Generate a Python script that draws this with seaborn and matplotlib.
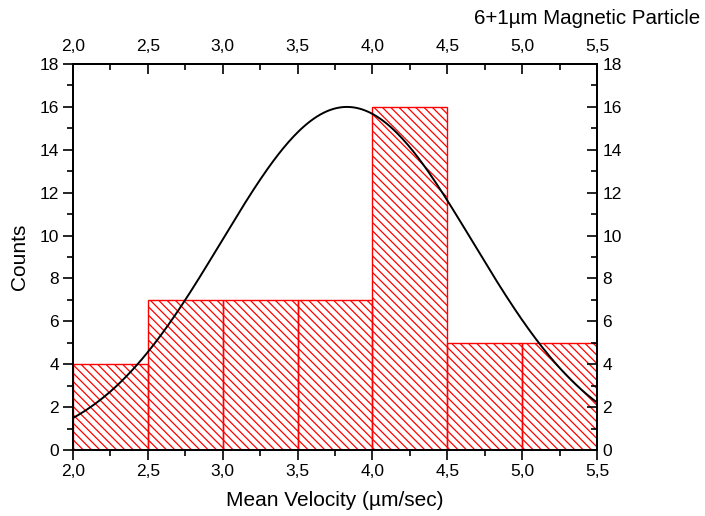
import numpy as np
import matplotlib
matplotlib.use("Agg")
import matplotlib.pyplot as plt
import seaborn as sns
from matplotlib.ticker import FuncFormatter, MultipleLocator

# Data
bin_edges = [2.0, 2.5, 3.0, 3.5, 4.0, 4.5, 5.0, 5.5]
bin_centers = [2.25, 2.75, 3.25, 3.75, 4.25, 4.75, 5.25]
counts = [4, 7, 7, 7, 16, 5, 5]
# Gaussian fit parameters
fit_amplitude = 16.0
fit_center = 3.83
fit_sigma = 0.84

sns.set_theme(style="ticks")
plt.rcParams['font.family'] = ['Liberation Sans', 'DejaVu Sans']
plt.rcParams['hatch.linewidth'] = 0.9
plt.rcParams['hatch.color'] = 'red'
plt.rcParams['text.color'] = 'black'
plt.rcParams['axes.labelcolor'] = 'black'
plt.rcParams['xtick.color'] = 'black'
plt.rcParams['ytick.color'] = 'black'
plt.rcParams['axes.edgecolor'] = 'black'

fig = plt.figure(figsize=(7.05, 5.16), dpi=100)
ax = fig.add_axes([0.1035, 0.1279, 0.7433, 0.748])

sns.histplot(x=bin_centers, weights=counts, bins=bin_edges, ax=ax,
             color='none', edgecolor='red', linewidth=1.0)
for p in ax.patches:
    p.set_hatch('\\\\\\\\')
    p.set_facecolor('none')
    p.set_edgecolor('red')

xs = np.linspace(bin_edges[0], bin_edges[-1], 300)
ys = fit_amplitude * np.exp(-(xs - fit_center) ** 2 / (2 * fit_sigma ** 2))
sns.lineplot(x=xs, y=ys, ax=ax, color='black', linewidth=1.4)

ax.set_xlim(2.0, 5.5)
ax.set_ylim(0, 18)
comma = FuncFormatter(lambda v, p: f"{v:.1f}".replace('.', ','))
ax.xaxis.set_major_locator(MultipleLocator(0.5))
ax.xaxis.set_minor_locator(MultipleLocator(0.25))
ax.xaxis.set_major_formatter(comma)
ax.yaxis.set_major_locator(MultipleLocator(2))
ax.yaxis.set_minor_locator(MultipleLocator(1))
ax.tick_params(which='major', direction='out', length=7, width=1.2, labelsize=12.5, colors='black', pad=3)
ax.tick_params(which='minor', direction='out', length=4, width=1.2)
for s in ax.spines.values():
    s.set_linewidth(1.2)
    s.set_color('black')
    s.set_visible(True)

ax.set_xlabel("Mean Velocity (µm/sec)", fontsize=15, labelpad=9, color='black')
ax.set_ylabel("Counts", fontsize=15, labelpad=8, color='black')

axt = ax.twiny()
axt.set_xlim(ax.get_xlim())
axt.xaxis.set_major_locator(MultipleLocator(0.5))
axt.xaxis.set_minor_locator(MultipleLocator(0.25))
axt.xaxis.set_major_formatter(comma)
axt.tick_params(which='major', direction='in', length=7, width=1.2, labelsize=12.5, pad=7, colors='black')
axt.tick_params(which='minor', direction='in', length=4, width=1.2)

axr = ax.twinx()
axr.set_ylim(ax.get_ylim())
axr.yaxis.set_major_locator(MultipleLocator(2))
axr.yaxis.set_minor_locator(MultipleLocator(1))
axr.tick_params(which='major', direction='in', length=7, width=1.2, labelsize=12.5, pad=4, colors='black')
axr.tick_params(which='minor', direction='in', length=4, width=1.2)
for a in (axt, axr):
    for s in a.spines.values():
        s.set_linewidth(1.2)
        s.set_color('black')

fig.text(0.993, 0.965, "6+1µm Magnetic Particle", ha='right', va='center', fontsize=14.8, color='black')

fig.savefig("out.png", dpi=100)
